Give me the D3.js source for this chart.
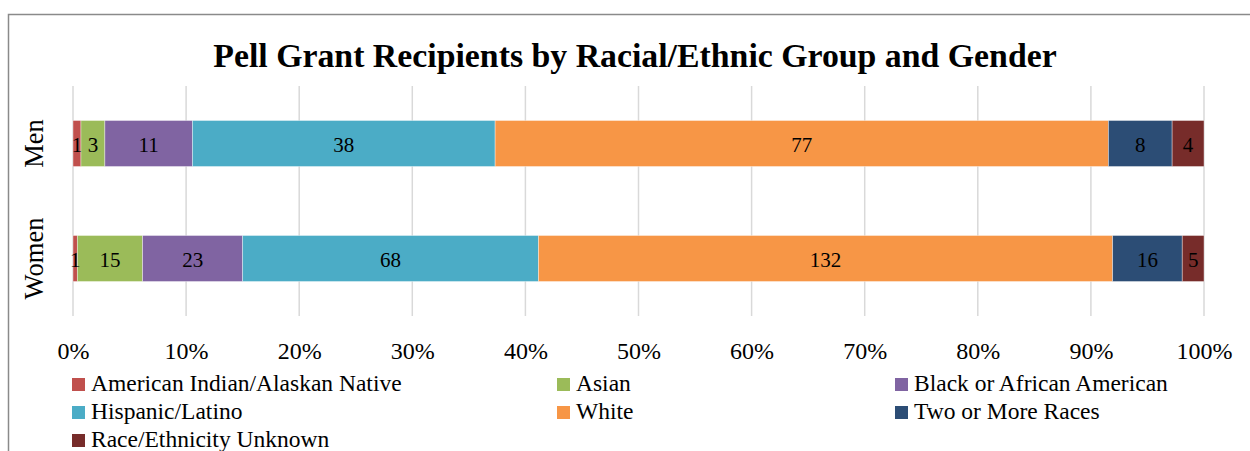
<!DOCTYPE html>
<html><head><meta charset="utf-8">
<script src="https://cdn.jsdelivr.net/npm/d3@7"></script>
<style>body{margin:0;background:#fff;} svg{display:block;}</style>
</head><body>
<svg id="chart" width="1250" height="451"></svg>
<script>
const categories = ["Men", "Women"];
const seriesNames = ["American Indian/Alaskan Native", "Asian", "Black or African American", "Hispanic/Latino", "White", "Two or More Races", "Race/Ethnicity Unknown"];
const menValues = [1, 3, 11, 38, 77, 8, 4];
const womenValues = [1, 15, 23, 68, 132, 16, 5];
const colors = ["#C0504D", "#9BBB59", "#8064A2", "#4BACC6", "#F79646", "#2C4D75", "#772C2A"];
const tickValues = [0, 0.1, 0.2, 0.3, 0.4, 0.5, 0.6, 0.7, 0.8, 0.9, 1.0];
const title = "Pell Grant Recipients by Racial/Ethnic Group and Gender";

const FONT = "'Liberation Serif',serif";
const svg = d3.select("#chart");

svg.append("rect").attr("x", 8.5).attr("y", 14.5).attr("width", 1300).attr("height", 500)
  .attr("fill", "none").attr("stroke", "#8a8a8a").attr("stroke-width", 1.5);

svg.append("text").attr("x", 635).attr("y", 67).attr("text-anchor", "middle")
  .attr("font-family", FONT).attr("font-weight", "bold").attr("font-size", 33.8).attr("fill", "#000")
  .text(title);

const x = d3.scaleLinear().domain([0, 1]).range([73, 1204]);
const y = d3.scaleBand().domain(categories).range([86, 316]).paddingInner(0.6).paddingOuter(0.3);

// gridlines
svg.append("g").selectAll("line").data(tickValues).join("line")
  .attr("x1", d => x(d)).attr("x2", d => x(d)).attr("y1", 86).attr("y2", 316)
  .attr("stroke", "#d9d9d9").attr("stroke-width", 1.5);

const rows = [menValues, womenValues];
rows.forEach((vals, ri) => {
  const total = d3.sum(vals);
  let cum = 0;
  const segs = vals.map((v, i) => { const s = {i, v, x0: cum / total, x1: (cum + v) / total}; cum += v; return s; });
  const g = svg.append("g");
  g.selectAll("rect").data(segs).join("rect")
    .attr("x", d => x(d.x0)).attr("width", d => x(d.x1) - x(d.x0))
    .attr("y", y(categories[ri])).attr("height", y.bandwidth())
    .attr("fill", d => colors[d.i]).attr("stroke", "rgba(255,255,255,0.5)").attr("stroke-width", 0.75);
  g.selectAll("text").data(segs).join("text")
    .attr("x", d => (x(d.x0) + x(d.x1)) / 2).attr("y", y(categories[ri]) + y.bandwidth() / 2 + 8.5)
    .attr("text-anchor", "middle").attr("font-family", FONT).attr("font-size", 21).attr("fill", "#000")
    .text(d => d.v);
});

// y labels
categories.forEach(c => {
  const cy = y(c) + y.bandwidth() / 2;
  svg.append("text").attr("transform", `translate(43,${cy}) rotate(-90)`).attr("text-anchor", "middle")
    .attr("font-family", FONT).attr("font-size", 26.5).attr("fill", "#000").text(c);
});

// x axis labels
const xAxis = d3.axisBottom(x).tickValues(tickValues).tickFormat(d3.format(".0%")).tickSize(0).tickPadding(0);
const ax = svg.append("g").attr("transform", "translate(0,359)").call(xAxis);
ax.select(".domain").remove();
ax.selectAll("text").attr("font-family", FONT).attr("font-size", 24).attr("fill", "#000").attr("dy", "0");

// legend
const colX = [72, 557, 895];
const rowY = [391, 419, 447];
const lg = svg.append("g");
seriesNames.forEach((n, i) => {
  const cx = colX[i % 3], cy = rowY[Math.floor(i / 3)];
  lg.append("rect").attr("x", cx).attr("y", cy - 13).attr("width", 13).attr("height", 13).attr("fill", colors[i]);
  lg.append("text").attr("x", cx + 19).attr("y", cy).attr("font-family", FONT).attr("font-size", 23.5).attr("fill", "#000").text(n);
});
</script>
</body></html>
